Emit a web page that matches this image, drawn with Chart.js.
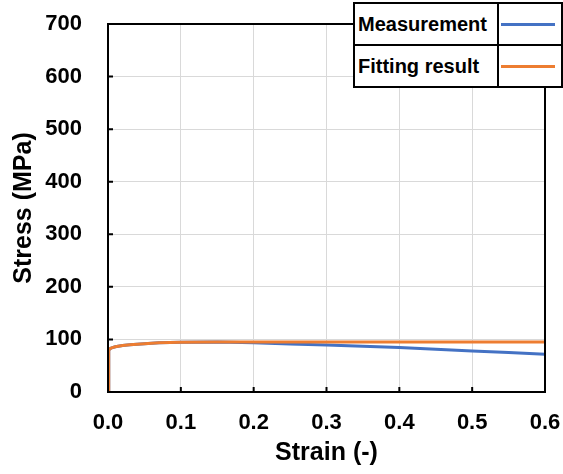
<!DOCTYPE html>
<html>
<head>
<meta charset="utf-8">
<script src="https://cdn.jsdelivr.net/npm/chart.js@4.4.1/dist/chart.umd.min.js"></script>
<style>
  body { margin: 0; background: #fff; }
  #wrap { position: relative; width: 563px; height: 474px; }
  #legendBox {
    position: absolute; left: 353px; top: 2px;
    border-collapse: collapse; background: #fff;
    font-family: "Liberation Sans", Arial, sans-serif; font-weight: bold; font-size: 20px;
  }
  #legendBox td { border: 2px solid #000; height: 40px; padding: 0; white-space: nowrap; }
  #legendBox td.name { width: 139px; padding-left: 3px; }
  #legendBox td.key { width: 62px; }
  .swatch { height: 3px; margin: 0 6px 0 2px; }
</style>
</head>
<body>
<div id="wrap">
  <canvas id="stressChart" width="563" height="474"></canvas>
  <table id="legendBox">
    <tr><td class="name">Measurement</td><td class="key"><div class="swatch" style="background:#4472C4"></div></td></tr>
    <tr><td class="name">Fitting result</td><td class="key"><div class="swatch" style="background:#ED7D31"></div></td></tr>
  </table>
</div>
<script>
// values
var strain = [0, 0.001, 0.002, 0.005, 0.01, 0.02, 0.03, 0.05, 0.07, 0.1, 0.15, 0.2, 0.25, 0.3, 0.35, 0.4, 0.45, 0.5, 0.55, 0.6];
var measured = [0, 78, 82, 84, 86, 88.5, 90, 92, 93.5, 94.5, 95, 93.5, 91.5, 89.5, 87, 84.5, 81.5, 78, 75, 72];
var fitted = [0, 78, 82, 84, 86, 88.5, 90, 92, 93.5, 94.5, 95, 95, 95, 95, 95, 95, 95, 95, 95, 95];
var xTicks = [0, 0.1, 0.2, 0.3, 0.4, 0.5, 0.6];
var yTicks = [0, 100, 200, 300, 400, 500, 600, 700];

function toPoints(xs, ys) {
    return xs.map(function (x, i) { return { x: x, y: ys[i] }; });
}

// black frame + inward tick marks
var framePlugin = {
    id: 'frame',
    afterDatasetsDraw: function (chart) {
        var ctx = chart.ctx, a = chart.chartArea;
        var xs = chart.scales.x, ys = chart.scales.y;
        ctx.save();
        ctx.strokeStyle = '#000';
        ctx.lineWidth = 2;
        ctx.strokeRect(a.left, a.top, a.right - a.left, a.bottom - a.top);
        ctx.beginPath();
        xTicks.forEach(function (v) {
            var px = xs.getPixelForValue(v);
            ctx.moveTo(px, a.bottom); ctx.lineTo(px, a.bottom - 5);
        });
        yTicks.forEach(function (v) {
            var py = ys.getPixelForValue(v);
            ctx.moveTo(a.left, py); ctx.lineTo(a.left + 5, py);
        });
        ctx.stroke();
        ctx.restore();
    }
};

var fam = '"Liberation Sans", Arial, sans-serif';
var tickFont = { family: fam, weight: 'bold', size: 22 };
var titleFont = { family: fam, weight: 'bold', size: 25 };

new Chart('stressChart', {
    type: 'scatter',
    data: {
        datasets: [{
            label: 'Fitting result',
            data: toPoints(strain, fitted),
            borderColor: '#ED7D31',
            borderWidth: 3,
            showLine: true,
            pointRadius: 0,
            order: 0
        }, {
            label: 'Measurement',
            data: toPoints(strain, measured),
            borderColor: '#4472C4',
            borderWidth: 3,
            showLine: true,
            pointRadius: 0,
            order: 1
        }]
    },
    options: {
        responsive: false,
        animation: false,
        layout: { padding: { left: 0, right: 18, top: 24, bottom: 0 } },
        plugins: { legend: { display: false }, tooltip: { enabled: false } },
        scales: {
            x: {
                type: 'linear', min: 0, max: 0.6,
                afterBuildTicks: function (s) { s.ticks = xTicks.map(function (v) { return { value: v }; }); },
                afterFit: function (s) { s.height = 82; s.paddingLeft = 0; s.paddingRight = 0; },
                grid: { color: '#d9d9d9', lineWidth: 1, drawTicks: false },
                border: { display: false },
                ticks: { color: '#000', font: tickFont, padding: 18, maxRotation: 0,
                    callback: function (v) { return v.toFixed(1); } },
                title: { display: true, text: 'Strain (-)', color: '#000',
                    font: titleFont, padding: { top: 0, bottom: 6 } }
            },
            y: {
                min: 0, max: 700,
                afterBuildTicks: function (s) { s.ticks = yTicks.map(function (v) { return { value: v }; }); },
                afterFit: function (s) { s.width = 108; s.paddingTop = 0; s.paddingBottom = 0; },
                grid: { color: '#d9d9d9', lineWidth: 1, drawTicks: false },
                border: { display: false },
                ticks: { color: '#000', font: tickFont, padding: 26 },
                title: { display: true, text: 'Stress (MPa)', color: '#000',
                    font: titleFont, padding: { top: 9, bottom: 0 } }
            }
        }
    },
    plugins: [framePlugin]
});
</script>
</body>
</html>
